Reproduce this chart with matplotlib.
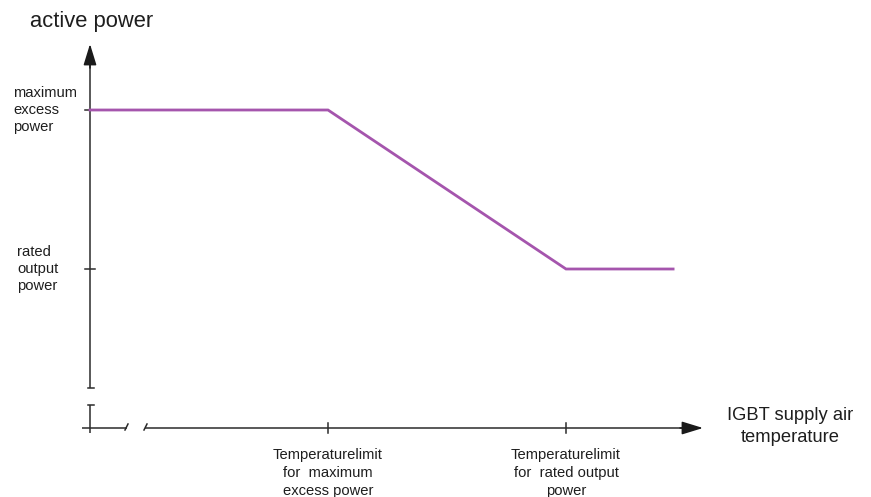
import matplotlib
matplotlib.use("Agg")
import matplotlib.pyplot as plt

# ---- data ----
temperature = [0.0, 1.0, 2.0, 2.45]          # relative temperature units
active_power = [2.0, 2.0, 1.0, 1.0]          # relative power (rated = 1)
y_tick_values = [2.0, 1.0]
y_tick_labels = [["maximum", "excess", "power"], ["rated", "output", "power"]]
x_tick_values = [1.0, 2.0]
x_tick_labels = [["Temperaturelimit", "for  maximum", "excess power"],
                 ["Temperaturelimit", "for  rated output", "power"]]
y_axis_title = "active power"
x_axis_title = ["IGBT supply air", "temperature"]

W, H, DPI = 871, 497, 100
fig = plt.figure(figsize=(W / DPI, H / DPI), dpi=DPI)
ax = fig.add_axes([0, 0, 1, 1])
ax.axis("off")

# scale: 238 px per temperature unit, 159 px per power unit
XS, YS = 238.0, 159.0
X0, Y0 = 90.0, 69.0   # pixel position of origin (from left, from bottom)
ax.set_xlim(-X0 / XS, (W - X0) / XS)
ax.set_ylim(-Y0 / YS, (H - Y0) / YS)

def dx(px):
    return px / XS

def dy(px):
    return px / YS

axc = "#2b2b2b"
lw = 1.1
font = "Liberation Sans"

# y axis (with break)
ax.plot([0, 0], [dy(40), dy(366)], color=axc, lw=lw, solid_capstyle="butt")
ax.annotate("", xy=(0, dy(384)), xytext=(0, dy(360)),
            arrowprops=dict(arrowstyle="-|>,head_length=1.3,head_width=0.4",
                            mutation_scale=10, color="#1a1a1a", lw=lw,
                            shrinkA=0, shrinkB=0))
ax.plot([0, 0], [dy(-5), dy(23)], color=axc, lw=lw, solid_capstyle="butt")
ax.plot([dx(-2), dx(4)], [dy(40), dy(40)], color=axc, lw=lw)
ax.plot([dx(-2), dx(4)], [dy(23), dy(23)], color=axc, lw=lw)

# x axis (with break)
ax.plot([dx(-8), dx(37)], [0, 0], color=axc, lw=lw, solid_capstyle="butt")
ax.plot([dx(55), dx(596)], [0, 0], color=axc, lw=lw, solid_capstyle="butt")
ax.annotate("", xy=(dx(613), 0), xytext=(dx(590), 0),
            arrowprops=dict(arrowstyle="-|>,head_length=1.3,head_width=0.4",
                            mutation_scale=10, color="#1a1a1a", lw=lw,
                            shrinkA=0, shrinkB=0))
for bx in (36.5, 55.5):
    ax.plot([dx(bx - 1.5), dx(bx + 1.5)], [dy(-2), dy(4)], color=axc, lw=lw)

# ticks
for v in y_tick_values:
    ax.plot([dx(-5), dx(5)], [v, v], color=axc, lw=lw)
for v in x_tick_values:
    ax.plot([v, v], [dy(-5), dy(5)], color=axc, lw=lw)

# curve
ax.plot(temperature, active_power, color="#a555ad", lw=2.0,
        solid_joinstyle="miter")

# texts
tc = "#1e1e1e"
ax.text(dx(-60), dy(407), y_axis_title, fontsize=15.8, family=font,
        color=tc, ha="left", va="center")

left_x = [dx(-77), dx(-73)]
for v, lines, lx in zip(y_tick_values, y_tick_labels, left_x):
    for i, s in enumerate(lines):
        ax.text(lx, v + dy(17 * (1 - i)), s, fontsize=10.6, family=font,
                color=tc, ha="left", va="center")

for v, lines in zip(x_tick_values, x_tick_labels):
    for i, s in enumerate(lines):
        ax.text(v, dy(-27 - 18 * i), s, fontsize=10.6, family=font,
                color=tc, ha="center", va="center")

for i, s in enumerate(x_axis_title):
    ax.text(dx(700), dy(12 - 21 * i), s, fontsize=13.2, family=font,
            color=tc, ha="center", va="center")

fig.savefig("out.png", dpi=DPI)
